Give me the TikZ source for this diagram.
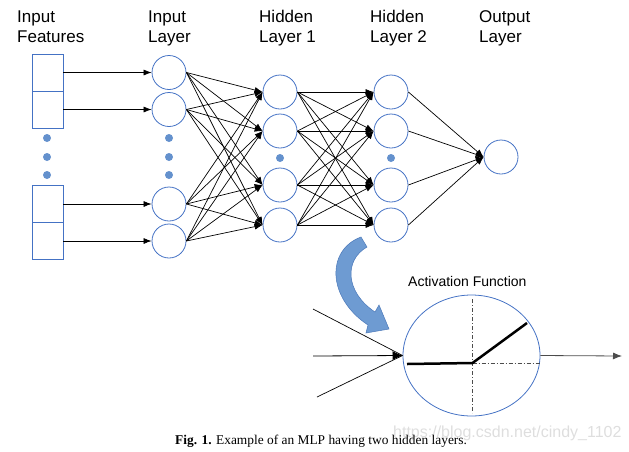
\documentclass[tikz,border=0pt]{standalone}
\usepackage{fontspec}
\setmainfont{Liberation Sans}
\newfontfamily\capfont{Liberation Serif}
\usetikzlibrary{arrows.meta,shapes.geometric}
\definecolor{nodeblue}{RGB}{68,114,196}
\definecolor{dotblue}{RGB}{100,145,205}
\definecolor{bigarrow}{RGB}{110,155,210}
\definecolor{bigarrowedge}{RGB}{75,120,185}
\definecolor{wm}{RGB}{222,222,222}
\begin{document}
\begin{tikzpicture}[x=1pt,y=-1pt,
 neuron/.style={circle,draw=nodeblue,line width=0.8pt,minimum size=34pt,inner sep=0pt},
 feat/.style={rectangle,draw=nodeblue,line width=0.8pt,minimum width=31pt,minimum height=37pt,inner sep=0pt},
 dotn/.style={circle,fill=dotblue,minimum size=8pt,inner sep=0pt},
 conn/.style={draw=black,line width=0.7pt,-{Latex[length=8pt,width=6pt]}},
 lbl/.style={font=\fontsize{17}{20}\selectfont,anchor=base west,inner sep=0pt},
]
\useasboundingbox (0,0) rectangle (629,451);
% watermark (behind)
\node[font=\fontsize{16}{18}\selectfont, text=wm, anchor=base west, inner sep=0pt] (wmk) at (393,437) {https://blog.csdn.net/cindy\_1102};

% labels
\node[lbl] (lf1) at (17,22) {Input};
\node[lbl] (lf2) at (17,42) {Features};
\node[lbl] (li1) at (148,22) {Input};
\node[lbl] (li2) at (148,42) {Layer};
\node[lbl] (lh1) at (259,22) {Hidden};
\node[lbl] (lh2) at (259,42) {Layer 1};
\node[lbl] (lk1) at (370,22) {Hidden};
\node[lbl] (lk2) at (370,42) {Layer 2};
\node[lbl] (lo1) at (479,22) {Output};
\node[lbl] (lo2) at (479,42) {Layer};

% feature boxes
\node[feat] (f1) at (47.5,72.5) {};
\node[feat] (f2) at (47.5,109.5) {};
\node[feat] (f3) at (47.5,204) {};
\node[feat] (f4) at (47.5,241) {};
\node[dotn] (fd1) at (47,138) {};
\node[dotn] (fd2) at (47,157) {};
\node[dotn] (fd3) at (47,175) {};

% input layer
\node[neuron] (i1) at (169,72.5) {};
\node[neuron] (i2) at (169,109.5) {};
\node[neuron] (i3) at (169,204) {};
\node[neuron] (i4) at (169,241) {};
\node[dotn] (id1) at (169,138) {};
\node[dotn] (id2) at (169,157) {};
\node[dotn] (id3) at (169,175) {};

% hidden layers
\node[neuron] (h1) at (280,92) {};
\node[neuron] (h2) at (280,131) {};
\node[neuron] (h3) at (280,185) {};
\node[neuron] (h4) at (280,225) {};
\node[dotn] (hd) at (280,158) {};
\node[neuron] (k1) at (391,92) {};
\node[neuron] (k2) at (391,131) {};
\node[neuron] (k3) at (391,185) {};
\node[neuron] (k4) at (391,225) {};
\node[dotn] (kd) at (391,158) {};

% output
\node[neuron] (o) at (501,157) {};

% connections
\foreach \n in {1,...,4} \draw[conn] (f\n.east) -- (i\n.west);
\foreach \a in {1,...,4} \foreach \b in {1,...,4} \draw[conn] (i\a.east) -- (h\b.west);
\foreach \a in {1,...,4} \foreach \b in {1,...,4} \draw[conn] (h\a.east) -- (k\b.west);
\foreach \a in {1,...,4} \draw[conn] (k\a.east) -- (o.west);

% big curved arrow
\filldraw[fill=bigarrow, draw=bigarrowedge, line width=0.5pt]
  (361,237) .. controls (326,250) and (327,298) .. (368,325)
  -- (366,333) -- (389,329) -- (379,305) -- (375,312)
  .. controls (345,292) and (344,260) .. (367,247) -- cycle;

% activation function
\node[font=\fontsize{14}{16}\selectfont, anchor=base west, inner sep=0pt] (acttitle) at (408,286) {Activation Function};
\node[ellipse, draw=nodeblue, line width=0.8pt, minimum width=137pt, minimum height=121pt, inner sep=0pt] (act) at (471.5,355.5) {};
\coordinate (axT) at (472.5,299);
\coordinate (axB) at (472.5,413);
\coordinate (ax0) at (472.5,363);
\coordinate (axR) at (540,363);
\coordinate (reL) at (407,364);
\coordinate (reR) at (527,323);
\draw[black!70, line width=0.8pt, dash pattern=on 4pt off 2pt on 1pt off 2pt] (axT) -- (axB);
\draw[black!70, line width=0.8pt, dash pattern=on 4pt off 2pt on 1pt off 2pt] (ax0) -- (axR);
\draw[black, line width=2.5pt] (reL) -- (ax0) -- (reR);

\coordinate (inU) at (313,309);
\coordinate (inM) at (313,356);
\coordinate (inL) at (317,397);
\coordinate (outE) at (622,356);
\draw[black, line width=0.7pt] (inU) -- (act.west);
\draw[black, line width=0.7pt] (inL) -- (act.west);
\draw[black!75, line width=0.8pt, -{Latex[length=10pt,width=9pt]}, black] (inM) -- (act.west);
\draw[black!70, line width=0.8pt, -{Latex[length=9pt,width=7pt]}] (act.east) -- (outE);

% caption
\node[font=\capfont\fontsize{13.4}{16}\selectfont, anchor=base west, inner sep=0pt] (cap) at (175,444) {\textbf{Fig. 1.} Example of an MLP having two hidden layers.};
\end{tikzpicture}
\end{document}
